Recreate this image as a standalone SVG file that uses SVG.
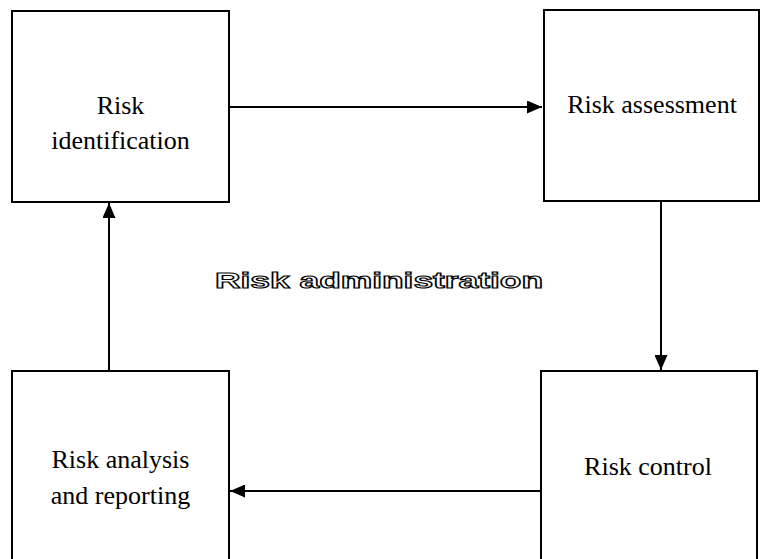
<svg xmlns="http://www.w3.org/2000/svg" width="760" height="559" viewBox="0 0 760 559">
<style>
.box{fill:#fff;stroke:#000;stroke-width:2}
.lbl{font-size:26px;fill:#000;text-anchor:middle}
.conn{stroke:#000;stroke-width:2;fill:none}
.title{font-weight:bold;font-size:22px;fill:#fff;stroke:#000;stroke-width:1.1}
</style>
<defs>
<marker id="ah" viewBox="0 0 15 13" refX="15" refY="6.5" markerWidth="15" markerHeight="13" markerUnits="userSpaceOnUse" orient="auto">
<path d="M0,0 L15,6.5 L0,13 Z" fill="#000"/>
</marker>
</defs>
<rect width="760" height="559" fill="#fff"/>
<g id="connectors">
<line class="conn" x1="229" y1="107" x2="542" y2="107" marker-end="url(#ah)"/>
<line class="conn" x1="661" y1="202" x2="661" y2="370" marker-end="url(#ah)"/>
<line class="conn" x1="541" y1="491" x2="230" y2="491" marker-end="url(#ah)"/>
<line class="conn" x1="109" y1="371" x2="109" y2="203" marker-end="url(#ah)"/>
</g>
<g id="risk-identification" font-family="'Liberation Serif', 'Times New Roman', 'DejaVu Serif', serif">
<rect class="box" x="12" y="11" width="217" height="191"/>
<text class="lbl" x="120.5" y="114">Risk</text>
<text class="lbl" x="120.5" y="149">identification</text>
</g>
<g id="risk-assessment" font-family="'Liberation Serif', 'Times New Roman', 'DejaVu Serif', serif">
<rect class="box" x="544" y="10" width="215" height="191"/>
<text class="lbl" x="652" y="113">Risk assessment</text>
</g>
<g id="risk-control" font-family="'Liberation Serif', 'Times New Roman', 'DejaVu Serif', serif">
<rect class="box" x="541" y="371" width="216" height="200"/>
<text class="lbl" x="648" y="475">Risk control</text>
</g>
<g id="risk-analysis" font-family="'Liberation Serif', 'Times New Roman', 'DejaVu Serif', serif">
<rect class="box" x="12" y="371" width="217" height="200"/>
<text class="lbl" x="120.5" y="468">Risk analysis</text>
<text class="lbl" x="120.5" y="504">and reporting</text>
</g>
<g id="title" font-family="'Liberation Sans', Arial, sans-serif">
<text class="title" x="215" y="288" textLength="328" lengthAdjust="spacingAndGlyphs">Risk administration</text>
</g>
</svg>
